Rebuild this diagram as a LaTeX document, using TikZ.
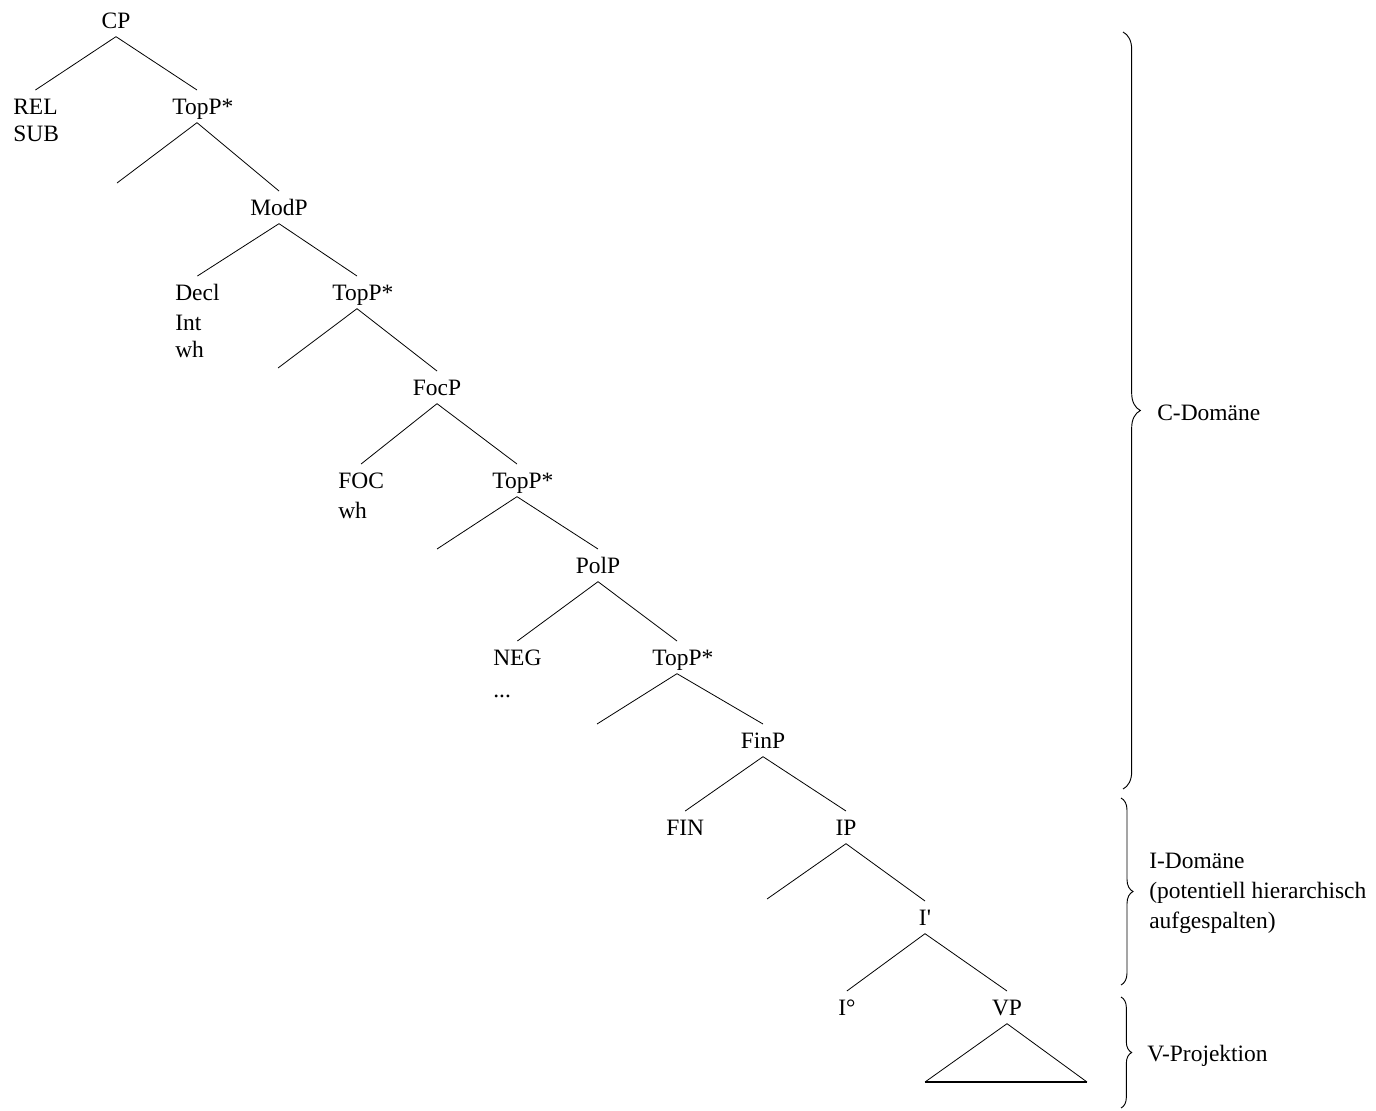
\documentclass[tikz,border=0pt]{standalone}
\usepackage{fontspec}
\setmainfont{Liberation Serif}
\usetikzlibrary{decorations.pathreplacing}
\begin{document}
\begin{tikzpicture}[x=0.75pt,y=-0.75pt,
  lab/.style={font=\fontsize{17.6}{20}\selectfont, inner xsep=0pt, inner ysep=6.3pt, text height=11.5pt, text depth=0pt, anchor=base},
  leaf/.style={lab, anchor=base west},
  br/.style={line width=0.6pt},
  bracedec/.style={decorate, decoration={brace, amplitude=#1}, line width=0.7pt}]
\useasboundingbox (0,0) rectangle (1376,1110);
% labels
\node[lab] (cp) at (116,28) {CP};
\node[leaf] (rel) at (13,114) {REL};
\node[leaf] (sub) at (13,141) {SUB};
\node[lab] (top1) at (197,114) {TopP\rlap{*}};
\coordinate (e1) at (117,183);
\node[lab] (mod) at (279,215) {ModP};
\node[leaf] (decl) at (175,300) {Decl};
\node[leaf] (int) at (175,330) {Int};
\node[leaf] (wh1) at (175,357) {wh};
\node[lab] (top2) at (357,300) {TopP\rlap{*}};
\coordinate (e2) at (278,368);
\node[lab] (foc) at (437,395) {FocP};
\node[leaf] (focl) at (338,488) {FOC};
\node[leaf] (wh2) at (338,518) {wh};
\node[lab] (top3) at (517,488) {TopP\rlap{*}};
\coordinate (e3) at (437,549);
\node[lab] (pol) at (598,573) {PolP};
\node[leaf] (neg) at (493,665) {NEG};
\node[leaf] (dots) at (493,697) {...};
\node[lab] (top4) at (677,665) {TopP\rlap{*}};
\coordinate (e4) at (597,724);
\node[lab] (fin) at (763,748) {FinP};
\node[leaf] (finl) at (666,835) {FIN};
\node[lab] (ip) at (846,835) {IP};
\coordinate (e5) at (767,899);
\node[lab] (ibar) at (925,925) {I\textquotesingle};
\node[leaf] (i0) at (838,1015) {I°};
\node[lab] (vp) at (1007,1015) {VP};
\coordinate (vl) at (925,1082);
\coordinate (vr) at (1087,1082);
% branches
\draw[br] (cp.south) -- (rel.north);
\draw[br] (cp.south) -- (top1.north);
\draw[br] (top1.south) -- (e1);
\draw[br] (top1.south) -- (mod.north);
\draw[br] (mod.south) -- (decl.north);
\draw[br] (mod.south) -- (top2.north);
\draw[br] (top2.south) -- (e2);
\draw[br] (top2.south) -- (foc.north);
\draw[br] (foc.south) -- (focl.north);
\draw[br] (foc.south) -- (top3.north);
\draw[br] (top3.south) -- (e3);
\draw[br] (top3.south) -- (pol.north);
\draw[br] (pol.south) -- (neg.north);
\draw[br] (pol.south) -- (top4.north);
\draw[br] (top4.south) -- (e4);
\draw[br] (top4.south) -- (fin.north);
\draw[br] (fin.south) -- (finl.north);
\draw[br] (fin.south) -- (ip.north);
\draw[br] (ip.south) -- (e5);
\draw[br] (ip.south) -- (ibar.north);
\draw[br] (ibar.south) -- (i0.north);
\draw[br] (ibar.south) -- (vp.north);
\draw[br] (vp.south) -- (vl);
\draw[br] (vp.south) -- (vr);
\draw[line width=1.5pt] (vl) -- (vr);
% braces
\draw[bracedec=13pt] (1123,32) -- (1123,789);
\draw[bracedec=9pt] (1121,798) -- (1121,985);
\draw[bracedec=8pt] (1121,997) -- (1121,1108);
\node[leaf] (cdom) at (1157,420) {C-Domäne};
\node[leaf] (idom) at (1149,868) {I-Domäne};
\node[leaf] (idom2) at (1149,898) {(potentiell hierarchisch};
\node[leaf] (idom3) at (1149,928) {aufgespalten)};
\node[leaf] (vproj) at (1147,1061) {V-Projektion};
\end{tikzpicture}
\end{document}
